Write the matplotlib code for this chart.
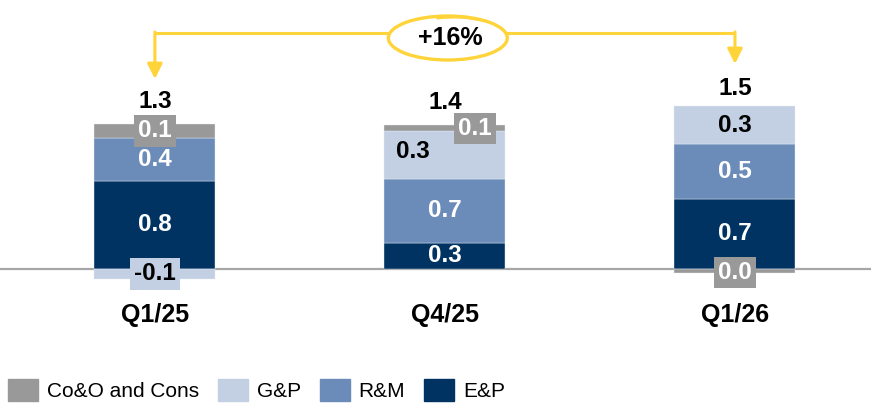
import numpy as np
import matplotlib
matplotlib.use('Agg')
import matplotlib.pyplot as plt
import matplotlib.patches as mpatches

plt.rcParams['font.family'] = ['Liberation Sans', 'DejaVu Sans']

# Data (bar heights, labels as printed)
quarters = ['Q1/25', 'Q4/25', 'Q1/26']
segments = ['E&P', 'R&M', 'G&P', 'Co&O and Cons']
ep = [0.80, 0.24, 0.64]
rm = [0.39, 0.58, 0.50]
gp = [-0.09, 0.43, 0.34]
coo = [0.13, 0.06, -0.04]
ep_labels = ['0.8', '0.3', '0.7']
rm_labels = ['0.4', '0.7', '0.5']
gp_labels = ['-0.1', '0.3', '0.3']
coo_labels = ['0.1', '0.1', '0.0']
totals = ['1.3', '1.4', '1.5']
growth = '+16%'

colors = {
    'E&P': '#003361',
    'R&M': '#6B8BB9',
    'G&P': '#C3CFE2',
    'Co&O and Cons': '#999999',
}
yellow = '#FFD43B'

fig = plt.figure(figsize=(8.71, 4.07), dpi=100)
ax = fig.add_axes([0, 117 / 407, 1, 290 / 407])
ax.set_xlim(-0.534, 2.469)
ax.set_ylim(-0.191, 2.4455)
ax.axis('off')

x = np.arange(len(quarters))
width = 0.417

# stacked bars, positives upward, negatives downward
pos_bottom = np.zeros(len(x))
neg_bottom = np.zeros(len(x))
tops = {}
for name, vals in zip(segments, [ep, rm, gp, coo]):
    vals = np.array(vals)
    bottom = np.where(vals >= 0, pos_bottom, neg_bottom)
    ax.bar(x, vals, width, bottom=bottom, color=colors[name],
           edgecolor='#E8EDF5', linewidth=0.3, zorder=2)
    tops[name] = (bottom, vals)
    pos_bottom += np.where(vals >= 0, vals, 0)
    neg_bottom += np.where(vals < 0, vals, 0)

ax.axhline(0, color='#A6A6A6', linewidth=1.6, zorder=1)

fs = 17.5
def seg_label(xp, yp, s, color='white', box=None):
    kw = dict(ha='center', va='center', fontsize=fs, fontweight='bold',
              color=color, zorder=5)
    if box is not None:
        kw['bbox'] = dict(boxstyle='square,pad=0.17', facecolor=box,
                          edgecolor='none')
    ax.text(xp, yp, s, **kw)

# E&P and R&M labels, centred in their segments
for i in range(len(x)):
    b, v = tops['E&P']
    seg_label(x[i], b[i] + v[i] / 2, ep_labels[i])
    b, v = tops['R&M']
    seg_label(x[i], b[i] + v[i] / 2, rm_labels[i])

# G&P labels
seg_label(x[0], -0.045, gp_labels[0], color='black', box=colors['G&P'])
seg_label(x[1] - 0.11, 1.064, gp_labels[1], color='black')
seg_label(x[2], 1.30, gp_labels[2], color='black')

# Co&O labels
seg_label(x[0], 1.255, coo_labels[0], box=colors['Co&O and Cons'])
seg_label(x[1] + 0.103, 1.28, coo_labels[1], box=colors['Co&O and Cons'])
seg_label(x[2], -0.03, coo_labels[2], box=colors['Co&O and Cons'])

# totals
total_y = [1.527, 1.518, 1.645]
for i in range(len(x)):
    ax.text(x[i], total_y[i], totals[i], ha='center', va='center',
            fontsize=fs, fontweight='bold', color='black')

# category labels
for i in range(len(x)):
    ax.text(x[i], -0.418, quarters[i], ha='center', va='center',
            fontsize=18, fontweight='bold', color='black', clip_on=False)

# growth connector
y_line = 2.145
ax.plot([x[0], x[2]], [y_line, y_line], color=yellow, linewidth=2.2,
        solid_capstyle='butt', zorder=3)
for xi, tip in [(x[0], 1.727), (x[2], 1.864)]:
    ax.annotate('', xy=(xi, tip), xytext=(xi, y_line + 0.01),
                arrowprops=dict(arrowstyle='-|>,head_length=0.9,head_width=0.45',
                                color=yellow, lw=2.2, shrinkA=0, shrinkB=0),
                zorder=3)

ell = mpatches.Ellipse((1.01, 2.1), 0.41, 0.40, facecolor='white',
                       edgecolor=yellow, linewidth=2.4, zorder=4)
ax.add_patch(ell)
swoosh = mpatches.Arc((1.03, 2.06), 0.40, 0.46, theta1=60, theta2=105,
                      edgecolor=yellow, linewidth=2.0, zorder=4)
ax.add_patch(swoosh)
ax.text(1.017, 2.1, growth, ha='center', va='center', fontsize=18,
        fontweight='bold', color='black', zorder=5)

# legend
handles = [mpatches.Patch(color=colors[n], label=n)
           for n in ['Co&O and Cons', 'G&P', 'R&M', 'E&P']]
fig.legend(handles=handles, loc='center left', ncol=4,
           bbox_to_anchor=(8 / 871, 17 / 407), frameon=False, fontsize=15,
           handlelength=1.44, handleheight=1.3, handletextpad=0.43,
           columnspacing=0.9, borderpad=0, borderaxespad=0)

fig.savefig('out.png', dpi=100)
